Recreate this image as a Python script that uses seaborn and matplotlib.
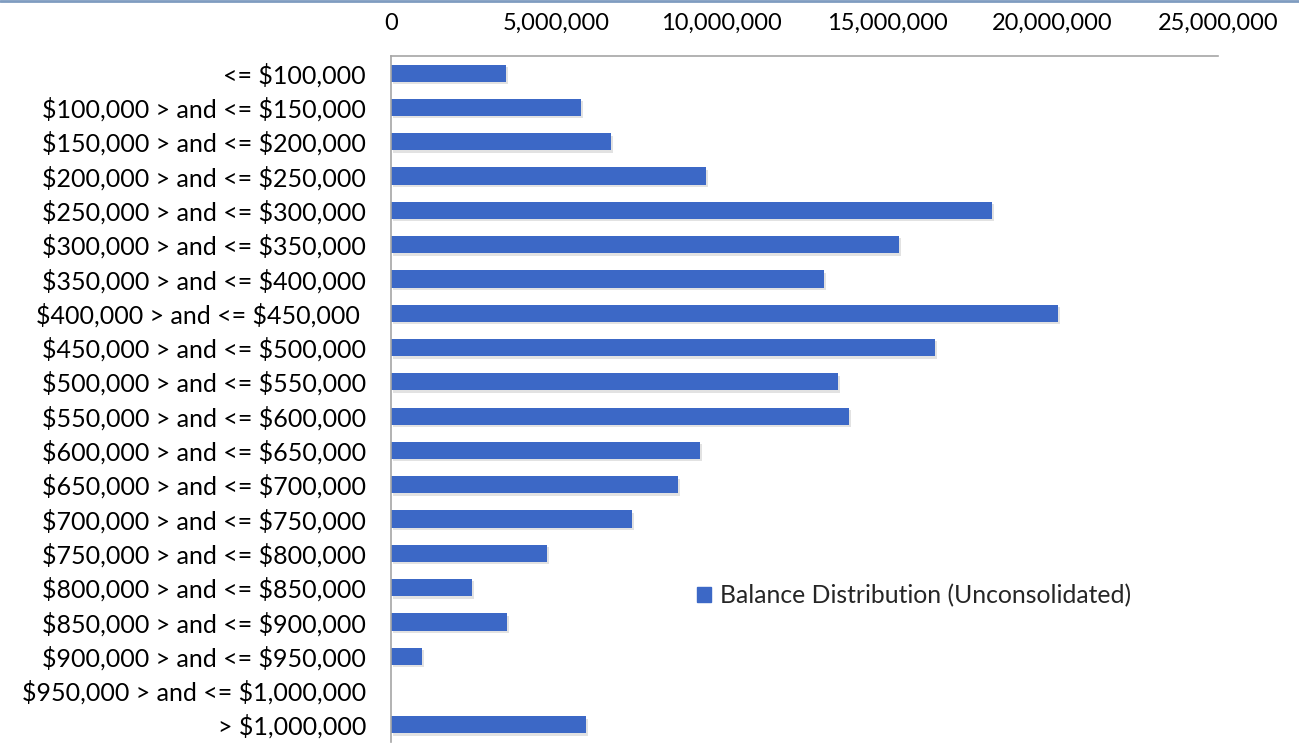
import matplotlib
matplotlib.use("Agg")
import matplotlib.pyplot as plt
import matplotlib.ticker as mticker
from matplotlib.lines import Line2D
from matplotlib.patches import Patch
import numpy as np
import pandas as pd
import seaborn as sns

bands = ["<= $100,000", "$100,000 > and <= $150,000", "$150,000 > and <= $200,000",
         "$200,000 > and <= $250,000", "$250,000 > and <= $300,000", "$300,000 > and <= $350,000",
         "$350,000 > and <= $400,000", "$400,000 > and <= $450,000 ", "$450,000 > and <= $500,000",
         "$500,000 > and <= $550,000", "$550,000 > and <= $600,000", "$600,000 > and <= $650,000",
         "$650,000 > and <= $700,000", "$700,000 > and <= $750,000", "$750,000 > and <= $800,000",
         "$800,000 > and <= $850,000", "$850,000 > and <= $900,000", "$900,000 > and <= $950,000",
         "$950,000 > and <= $1,000,000", "> $1,000,000"]
balance = [3480000, 5750000, 6650000, 9530000, 18180000, 15370000, 13100000, 20150000, 16450000,
           13520000, 13850000, 9350000, 8680000, 7290000, 4720000, 2450000, 3510000, 940000,
           0, 5900000]
x_ticks = [0, 5000000, 10000000, 15000000, 20000000, 25000000]
series_name = "Balance Distribution (Unconsolidated)"

bar_color = "#3C68C6"
axis_color = "#A6A6A6"

sns.set_style("white")
plt.rcParams["font.family"] = ["Lato", "DejaVu Sans"]
plt.rcParams["text.parse_math"] = False

df = pd.DataFrame({"band": bands, "balance": balance})

fig = plt.figure(figsize=(12.99, 7.47), dpi=100)
ax = fig.add_axes([0.301, 0.0067, 0.6367, 0.9183])

# soft shadow under the bars
ax.barh(np.arange(len(bands)) + 0.07, df["balance"], height=0.5,
        left=60000, color="#BFBFBF", alpha=0.45, linewidth=0, zorder=1)
sns.barplot(data=df, x="balance", y="band", orient="h", color=bar_color,
            saturation=1, width=0.5, linewidth=0, ax=ax, zorder=2)

ax.set_xlim(0, 25000000)
ax.set_ylim(len(bands) - 0.5, -0.5)
ax.set_xticks(x_ticks)
ax.xaxis.set_major_formatter(mticker.FuncFormatter(lambda v, p: f"{int(v):,}"))
ax.xaxis.tick_top()
ax.tick_params(axis="x", length=0, pad=16, labelsize=17, colors="#000000")
ax.tick_params(axis="y", which="major", length=0, pad=18, labelsize=18, colors="#000000")
ax.set_yticks(np.arange(len(bands) + 1) - 0.5, minor=True)
ax.tick_params(axis="y", which="minor", length=6, color=axis_color, width=1.2)
ax.set_xlabel("")
ax.set_ylabel("")

for side in ["right", "bottom"]:
    ax.spines[side].set_visible(False)
for side in ["top", "left"]:
    ax.spines[side].set_color(axis_color)
    ax.spines[side].set_linewidth(1.2)

handle = Patch(facecolor=bar_color, edgecolor=bar_color)
ax.legend([handle], [series_name], loc="center left", bbox_to_anchor=(0.358, 0.213),
          frameon=False, fontsize=17.8, handlelength=0.55, handleheight=0.55,
          handletextpad=0.4, borderaxespad=0)

fig.add_artist(Line2D([0, 1], [0.999, 0.999], color="#7F9CC0", linewidth=2,
                      transform=fig.transFigure))

fig.savefig("out.png", dpi=100)
